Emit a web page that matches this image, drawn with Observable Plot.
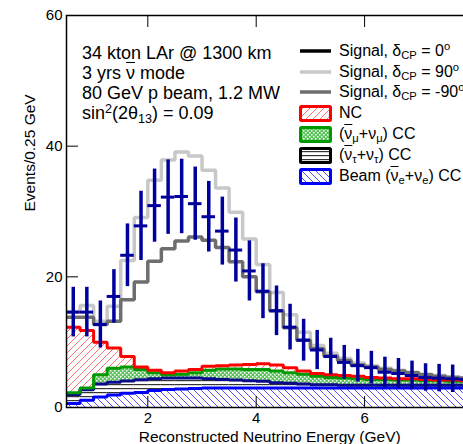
<!DOCTYPE html>
<html><head><meta charset="utf-8">
<script src="https://cdn.jsdelivr.net/npm/d3@7"></script>
<script src="https://cdn.jsdelivr.net/npm/@observablehq/plot@0.6"></script>
<style>
html,body{margin:0;padding:0;overflow:hidden;background:#fff;}
#wrap{position:relative;width:463px;height:444px;overflow:hidden;font-family:"Liberation Sans",Arial,Helvetica,sans-serif;color:#000;}
#chart{position:absolute;left:0;top:0;width:475px;height:444px;}
#chart svg{max-width:none !important;width:475px !important;height:444px !important;}
.ann{position:absolute;left:82px;font-size:18px;line-height:20px;white-space:nowrap;}
.leg{position:absolute;left:299px;height:20px;display:flex;align-items:center;font-size:16px;white-space:nowrap;}
.leg svg{margin-right:6px;flex:none;}
sub{font-size:0.7em;vertical-align:-0.3em;line-height:0;}
sup{font-size:0.7em;vertical-align:0.5em;line-height:0;}
.ob{text-decoration:overline;}
</style>
</head><body>
<div id="wrap">
<svg width="0" height="0" style="position:absolute">
<defs>
<pattern id="redHatch" patternUnits="userSpaceOnUse" width="7" height="7">
<path d="M0,7 L7,0 M-1,1 L1,-1 M6,8 L8,6" stroke="#ff7070" stroke-width="1"/>
</pattern>
<pattern id="blueHatch" patternUnits="userSpaceOnUse" width="7" height="7">
<path d="M0,0 L7,7 M-1,6 L1,8 M6,-1 L8,1" stroke="#5050ff" stroke-width="1"/>
</pattern>
<pattern id="greenCross" patternUnits="userSpaceOnUse" width="4" height="4">
<rect x="0" y="0" width="4" height="4" fill="#5cc25c"/>
<rect x="0" y="0" width="1.5" height="1.5" fill="#ffffff"/>
<rect x="2" y="2" width="1.5" height="1.5" fill="#ffffff"/>
</pattern>
<pattern id="tauLines" patternUnits="userSpaceOnUse" width="4" height="4">
<rect x="0" y="0" width="4" height="1.2" fill="#333"/>
</pattern>
</defs>
</svg>
<div id="chart"></div>
<div class="ann" style="top:43px">34 kton LAr @ 1300 km</div>
<div class="ann" style="top:63px">3 yrs <span class="ob">ν</span> mode</div>
<div class="ann" style="top:83px">80 GeV p beam, 1.2 MW</div>
<div class="ann" style="top:103px">sin<sup>2</sup>(2θ<sub>13</sub>) = 0.09</div>
<div id="legend"></div>
</div>
<script>
// bin lower edges (GeV), 0.25 GeV bins
const energyLow = [0.5,0.75,1.0,1.25,1.5,1.75,2.0,2.25,2.5,2.75,3.0,3.25,3.5,3.75,4.0,4.25,4.5,4.75,5.0,5.25,5.5,5.75,6.0,6.25,6.5,6.75,7.0,7.25,7.5,7.75];
const binWidth = 0.25;
// signal histograms
const signal90  = [14.6,15.6,13.2,15.5,22.5,29.1,34.8,37.9,39.1,38.5,36.3,33.6,29.9,25.8,21.9,17.6,14.2,11.5,9.5,8.3,7.5,6.8,6.4,6.0,5.7,5.4,5.1,4.9,4.7,4.5];
const signalM90 = [13.8,13.8,12.7,13.2,16.5,19.2,22.4,24.3,25.5,26.1,25.6,24.5,22.3,20.0,17.7,14.8,12.2,10.3,9.0,7.9,7.2,6.5,6.2,5.8,5.6,5.3,5.0,4.8,4.6,4.5];
// delta_CP = 0 with statistical errors
const signal0   = [14.6,14.6,12.7,17.0,23.3,27.8,30.9,32.2,32.3,31.2,29.2,27.0,24.1,20.9,17.8,14.8,12.3,10.3,8.8,7.8,6.9,6.4,6.1,5.4,5.2,4.9,4.6,4.5,4.4,4.3];
const signal0Err= [3.8,3.8,3.6,4.1,4.8,5.3,5.6,5.7,5.7,5.6,5.4,5.2,4.9,4.6,4.2,3.8,3.5,3.2,3.0,2.8,2.6,2.5,2.5,2.3,2.3,2.2,2.1,2.1,2.1,2.1];
// stacked backgrounds: top of each layer
const beamTop = [0.6,1.1,1.6,1.9,2.2,2.3,2.6,2.75,2.85,2.9,3.0,3.0,3.0,3.0,3.0,3.0,3.0,3.0,3.0,3.0,3.0,3.0,3.0,3.0,3.0,3.0,3.0,3.0,3.0,3.0];
const tauTop  = [2.0,2.7,3.6,3.85,4.05,4.25,4.4,4.5,4.5,4.5,4.4,4.3,4.2,4.1,4.0,3.8,3.7,3.6,3.5,3.5,3.4,3.4,3.4,3.4,3.4,3.4,3.4,3.4,3.4,3.4];
const numuTop = [2.25,3.0,5.0,6.0,6.2,5.8,5.3,5.0,5.1,5.3,5.7,5.9,5.9,5.8,5.8,5.6,5.3,5.1,4.8,4.6,4.5,4.4,4.3,4.3,4.2,4.2,4.1,4.1,4.0,4.0];
const ncTop   = [12.3,11.8,10.0,9.1,7.8,6.2,5.7,5.3,5.6,5.8,6.3,6.4,6.5,6.6,6.7,6.5,6.1,5.6,5.2,5.0,4.9,4.8,4.6,4.5,4.4,4.4,4.3,4.2,4.2,4.1];
const xTicks = [2,4,6];
const yTicks = [0,20,40,60];

const bins = energyLow.map((e,i)=>({
  x1:e, x2:e+binWidth, xc:e+binWidth/2,
  beam:beamTop[i], tau:tauTop[i], numu:numuTop[i], nc:ncTop[i],
  v:signal0[i], lo:signal0[i]-signal0Err[i], hi:signal0[i]+signal0Err[i]
}));
const step = vals => energyLow.map((e,i)=>({x:e,y:vals[i]})).concat([{x:energyLow[energyLow.length-1]+binWidth,y:vals[vals.length-1]}]);
const lineOpts = (stroke,w)=>({x:"x",y:"y",curve:"step-after",stroke,strokeWidth:w,strokeLinejoin:"miter",strokeLinecap:"butt"});

const plot = Plot.plot({
  width:475, height:444,
  marginLeft:66, marginRight:2.5, marginTop:15, marginBottom:37,
  style:{fontFamily:"'Liberation Sans', Arial, sans-serif", fontSize:"14px", color:"#000", background:"transparent", maxWidth:"none"},
  x:{domain:[0.5,8]},
  y:{domain:[0,60]},
  marks:[
    Plot.rectY(bins,{x1:"x1",x2:"x2",y1:0,y2:"beam",fill:"url(#blueHatch)"}),
    Plot.rectY(bins,{x1:"x1",x2:"x2",y1:"beam",y2:"tau",fill:"url(#tauLines)"}),
    Plot.rectY(bins,{x1:"x1",x2:"x2",y1:"tau",y2:"numu",fill:"url(#greenCross)"}),
    Plot.rectY(bins,{x1:"x1",x2:"x2",y1:"numu",y2:"nc",fill:"url(#redHatch)"}),
    Plot.line(step(beamTop),lineOpts("#0000ff",3)),
    Plot.line(step(tauTop),lineOpts("#0a0a8c",3)),
    Plot.line(step(numuTop),lineOpts("#009900",3)),
    Plot.line(step(ncTop),lineOpts("#ff0000",3)),
    Plot.line(step(signal90),lineOpts("#c8c8c8",3.5)),
    Plot.line(step(signalM90),lineOpts("#6e6e6e",3.5)),
    Plot.ruleX(bins,{x:"xc",y1:"lo",y2:"hi",stroke:"#00009c",strokeWidth:3.5}),
    Plot.ruleY(bins,{y:"v",x1:"x1",x2:"x2",stroke:"#00009c",strokeWidth:3}),
    Plot.axisX({anchor:"bottom",ticks:xTicks,tickSize:-11,tickPadding:16,fontSize:15,label:null,tickFormat:d=>String(d)}),
    Plot.axisX({anchor:"top",ticks:xTicks,tickSize:-11,label:null,tickFormat:()=>""}),
    Plot.axisY({anchor:"left",ticks:yTicks,tickSize:-12,tickPadding:16,fontSize:15,label:null,tickFormat:d=>String(d)}),
    Plot.text(["Reconstructed Neutrino Energy (GeV)"],{frameAnchor:"bottom",dy:30,fontSize:15.5,lineAnchor:"middle"}),
    Plot.text(["Events/0.25 GeV"],{frameAnchor:"left",dx:-36,rotate:-90,fontSize:15.5,lineAnchor:"middle"}),
    Plot.frame({stroke:"#000",strokeWidth:1.5})
  ]
});
document.getElementById("chart").appendChild(plot);

// legend
const legendItems = [
  {kind:"line",color:"#000",label:"Signal, δ<sub>CP</sub> = 0<sup>o</sup>",y:51},
  {kind:"line",color:"#c8c8c8",label:"Signal, δ<sub>CP</sub> = 90<sup>o</sup>",y:72},
  {kind:"line",color:"#6e6e6e",label:"Signal, δ<sub>CP</sub> = -90<sup>o</sup>",y:92},
  {kind:"box",color:"#ff0000",fill:"url(#redHatch)",label:"NC",y:113},
  {kind:"box",color:"#009900",fill:"url(#greenCross)",label:"(<span class='ob'>ν</span><sub>μ</sub>+ν<sub>μ</sub>) CC",y:134},
  {kind:"box",color:"#000",fill:"url(#tauLines)",label:"(<span class='ob'>ν</span><sub>τ</sub>+ν<sub>τ</sub>) CC",y:155},
  {kind:"box",color:"#0000ff",fill:"url(#blueHatch)",label:"Beam (<span class='ob'>ν</span><sub>e</sub>+ν<sub>e</sub>) CC",y:176}
];
const leg = document.getElementById("legend");
legendItems.forEach(it=>{
  const d = document.createElement("div");
  d.className="leg";
  d.style.top=(it.y-10)+"px";
  const sw = it.kind==="line"
    ? `<svg width="34" height="16"><line x1="1" y1="8" x2="32" y2="8" stroke="${it.color}" stroke-width="3.5"/></svg>`
    : `<svg width="34" height="17"><rect x="1.5" y="1.5" width="30" height="14" fill="${it.fill}" stroke="${it.color}" stroke-width="3" rx="1"/></svg>`;
  d.innerHTML = sw + `<span>${it.label}</span>`;
  leg.appendChild(d);
});
</script>
</body></html>
